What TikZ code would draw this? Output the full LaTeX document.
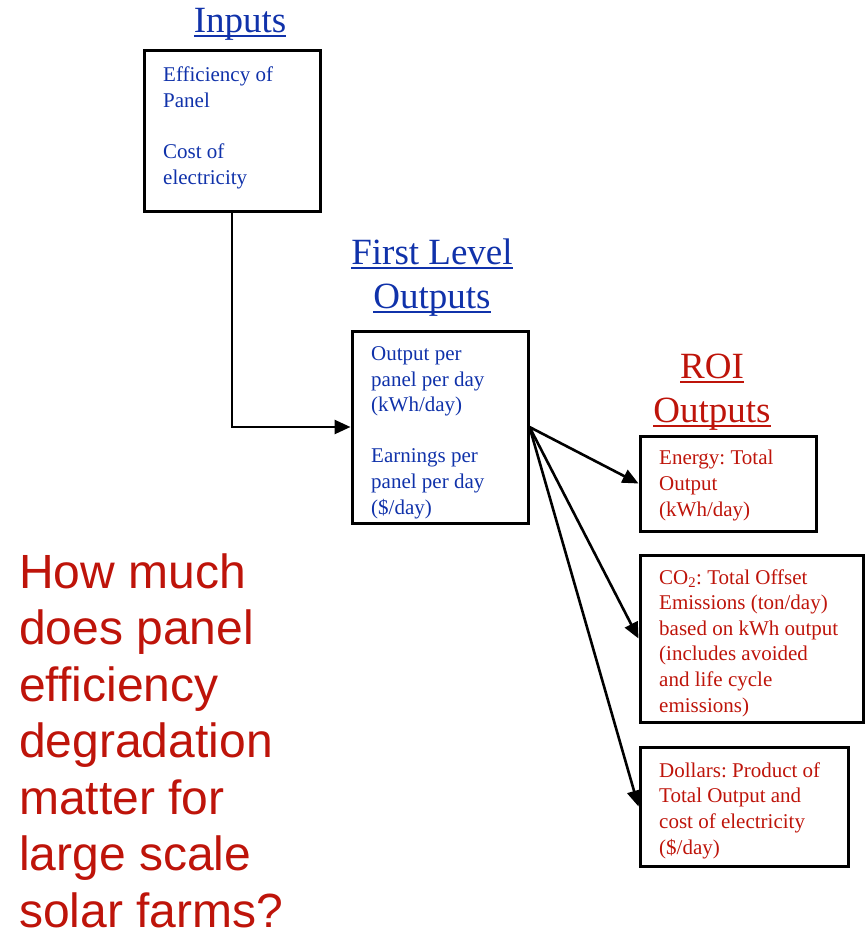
\documentclass[tikz,border=0pt]{standalone}
\usepackage{fontspec}
\setmainfont{Liberation Serif}
\newfontfamily\bigsans{Liberation Sans}
\usetikzlibrary{arrows.meta}
\frenchspacing
\definecolor{tblue}{RGB}{16,50,170}
\definecolor{tred}{RGB}{190,20,10}
\newcommand\myul[1]{\setbox0\hbox{#1}\rlap{\rule[-4.5pt]{\wd0}{2pt}}\box0}
\tikzset{
  box/.style={draw=black, line width=3pt, rectangle, inner sep=0pt},
  btext/.style={anchor=base west, align=left, inner sep=0pt, font=\fontsize{21}{25.6}\selectfont},
  ttl/.style={anchor=base, align=center, inner sep=0pt, font=\fontsize{37}{44}\selectfont},
  conn/.style={line width=2.6pt, -{Triangle[length=16pt,width=14pt]}},
}
\begin{document}
\begin{tikzpicture}[x=1pt,y=-1pt]
\useasboundingbox (0,0) rectangle (864,936);
% boxes
\node[box, minimum width=176pt, minimum height=160pt] (b1) at (232,131) {};
\node[box, minimum width=176pt, minimum height=192pt] (b2) at (440,427) {};
\node[box, minimum width=176pt, minimum height=95pt] (b3) at (728,483.5) {};
\node[box, minimum width=223pt, minimum height=167pt] (b4) at (751.5,638.5) {};
\node[box, minimum width=208pt, minimum height=119pt] (b5) at (744,806.5) {};
% titles (anchored at last line baseline)
\node[ttl, text=tblue] (t1) at (240,33) {\myul{Inputs}};
\node[ttl, text=tblue] (t2) at (432,308) {\myul{First Level}\\\myul{Outputs}};
\node[ttl, text=tred] (t3) at (712,422) {\myul{ROI}\\\myul{Outputs}};
% box texts (anchored at last line baseline)
\node[btext, text=tblue] (x1) at (163,184) {Efficiency of\\Panel\\[25.6pt]Cost of\\electricity};
\node[btext, text=tblue] (x2) at (371,514) {Output per\\panel per day\\(kWh/day)\\[25.6pt]Earnings per\\panel per day\\(\$/day)};
\node[btext, text=tred] (x3) at (659,516) {Energy: Total\\Output\\(kWh/day)};
\node[btext, text=tred] (x4) at (659,712) {CO\textsubscript{2}: Total Offset\\Emissions (ton/day)\\based on kWh output\\(includes avoided\\and life cycle\\emissions)};
\node[btext, text=tred] (x5) at (659,854) {Dollars: Product of\\Total Output and\\cost of electricity\\(\$/day)};
% question
\node[anchor=base west, align=left, inner sep=0pt, text=tred, font=\bigsans\fontsize{48}{56.5}\selectfont] (q) at (19,927)
  {How much\\does panel\\efficiency\\degradation\\matter for\\large scale\\solar farms?};
% connectors
\draw[conn] (b1.south) |- (b2.west);
\draw[conn] (b2.east) -- (b3.west);
\draw[conn] (b2.east) -- (b4.west);
\draw[conn] (b2.east) -- (b5.west);
\end{tikzpicture}
\end{document}
